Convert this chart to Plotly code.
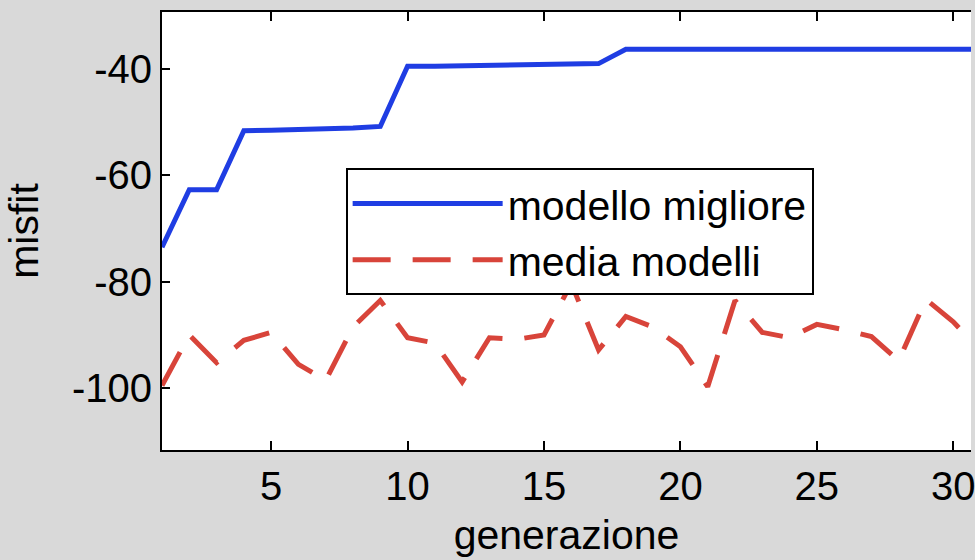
import plotly.graph_objects as go

generazione = list(range(1, 32))
modello_migliore = [-73.5, -62.7, -62.7, -51.6, -51.5, -51.4, -51.2, -51.1, -50.8, -39.5,
                    -39.5, -39.4, -39.4, -39.3, -39.3, -39.1, -39.0, -36.3, -36.3, -36.3,
                    -36.3, -36.3, -36.3, -36.3, -36.3, -36.3, -36.3, -36.3, -36.3, -36.3, -36.3]
media_modelli = [-99.5, -90.0, -95.2, -91.0, -89.5, -95.5, -98.5, -88.5, -83.5, -90.5,
                 -91.5, -98.8, -90.5, -90.8, -90.0, -80.3, -92.8, -86.5, -88.5, -92.2,
                 -99.7, -83.5, -89.5, -90.5, -88.0, -89.0, -90.3, -94.8, -83.3, -87.5, -93.0]
x_ticks = [5, 10, 15, 20, 25, 30]
y_ticks = [-100, -80, -60, -40]
y_tick_labels = ["-100", "-80", "-60", "-40"]

FONT = "Liberation Sans, Arial, Helvetica, sans-serif"

fig = go.Figure()
fig.add_trace(go.Scatter(x=generazione, y=modello_migliore, mode="lines",
                         name="modello migliore",
                         line=dict(color="#1f3de3", width=5)))
fig.add_trace(go.Scatter(x=generazione, y=media_modelli, mode="lines",
                         name="media modelli",
                         line=dict(color="#d8443a", width=5, dash="38px,22px")))

fig.update_layout(
    width=975, height=560,
    margin=dict(l=162, r=0, t=12, b=110),
    paper_bgcolor="#d9d9d9",
    plot_bgcolor="white",
    font=dict(family=FONT, size=39, color="black"),
    showlegend=True,
    legend=dict(x=0.227, y=0.643, xanchor="left", yanchor="top",
                bgcolor="white", bordercolor="black", borderwidth=2,
                font=dict(size=41), itemwidth=150, tracegroupgap=0),
    xaxis=dict(range=[1, 30.65], tickvals=x_ticks, ticks="inside", ticklen=9,
               tickwidth=2, tickcolor="black", showline=True, linecolor="black",
               linewidth=2, mirror="ticks", showgrid=False, zeroline=False,
               ticklabeloverflow="allow",
               title=dict(text="generazione", standoff=13, font=dict(size=41)),
               tickfont=dict(size=40)),
    yaxis=dict(range=[-111.6, -29.3], tickvals=y_ticks, ticktext=y_tick_labels,
               ticks="inside", ticklen=8,
               tickwidth=2, tickcolor="black", showline=True, linecolor="black",
               linewidth=2, showgrid=False, zeroline=False,
               title=dict(text="misfit", standoff=21, font=dict(size=41)),
               tickfont=dict(size=40)),
)

fig.write_html("out.html", config={"displayModeBar": False},
               post_script="document.body.style.margin='0';document.body.style.overflow='hidden';")
